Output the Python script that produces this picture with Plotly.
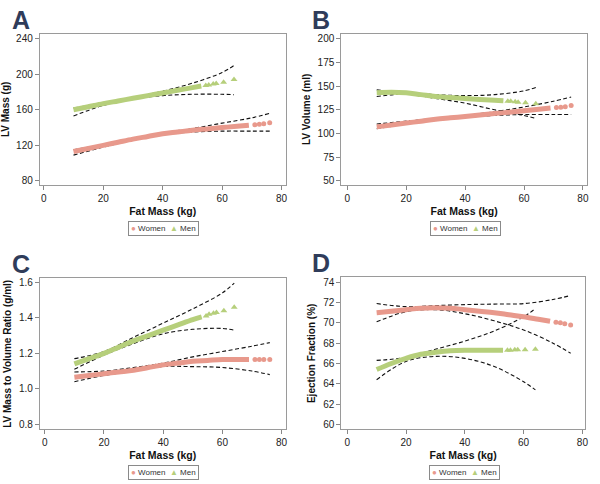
import plotly.graph_objects as go

# ---------------- data ----------------
fm_w = [10, 15, 20, 25, 30, 35, 40, 45, 50, 55, 60, 65, 69]
fm_w_tail = [71, 72.5, 74, 76]
fm_m = [10, 15, 20, 25, 30, 35, 40, 45, 50, 53]
fm_m_tail = [54.5, 55.5, 57, 58, 60.5, 64]
ci_w_fm = [10, 20, 30, 40, 50, 60, 70, 76]
ci_m_fm = [10, 20, 30, 40, 50, 60, 64]

# Panel A: LV Mass (g)
a_w = [113, 116.5, 120, 123.5, 127, 130, 133, 135, 137, 138.5, 140, 141.5, 142.7]
a_w_tail = [143.3, 143.8, 144.3, 145.5]
a_m = [160, 163.5, 167, 170, 173, 176, 179, 182, 185, 186.8]
a_m_tail = [187.5, 188, 189, 189.5, 191, 194]
a_w_up = [115, 121, 128, 134, 139, 145, 151, 156]
a_w_lo = [109, 118, 126, 132, 135, 136, 136, 136]
a_m_up = [162, 168, 174, 181, 190, 202, 210]
a_m_lo = [153, 165, 172, 176, 177.5, 177.5, 177]

# Panel B: LV Volume (ml)
b_w = [107, 109, 111, 113, 115, 116.5, 118, 119.5, 121, 122.5, 124, 125.5, 126.8]
b_w_tail = [127.3, 127.8, 128.3, 129.5]
b_m = [143, 143.5, 143, 141, 139, 138, 137, 136, 135, 134.5]
b_m_tail = [134, 134, 133.5, 133, 132.5, 131.5]
b_w_up = [110, 113, 116, 119, 123, 128, 134, 138.5]
b_w_lo = [105, 110, 114, 117, 119, 120, 120, 120]
b_m_up = [146, 143.5, 141, 140, 141, 145, 148.5]
b_m_lo = [139, 141.5, 137, 132, 125, 119, 116]

# Panel C: LV Mass to Volume Ratio (g/ml)
c_w = [1.065, 1.075, 1.085, 1.095, 1.105, 1.12, 1.135, 1.145, 1.155, 1.16, 1.165, 1.165, 1.165]
c_w_tail = [1.165, 1.165, 1.165, 1.165]
c_m = [1.14, 1.17, 1.20, 1.235, 1.27, 1.30, 1.33, 1.36, 1.39, 1.405]
c_m_tail = [1.41, 1.42, 1.425, 1.43, 1.44, 1.46]
c_w_up = [1.095, 1.10, 1.12, 1.145, 1.18, 1.21, 1.24, 1.26]
c_w_lo = [1.04, 1.075, 1.10, 1.125, 1.125, 1.12, 1.10, 1.08]
c_m_up = [1.17, 1.21, 1.29, 1.37, 1.45, 1.54, 1.595]
c_m_lo = [1.11, 1.19, 1.255, 1.31, 1.335, 1.34, 1.33]

# Panel D: Ejection Fraction (%)
d_w = [71.0, 71.15, 71.3, 71.45, 71.5, 71.45, 71.3, 71.15, 71.0, 70.8, 70.6, 70.35, 70.15]
d_w_tail = [70.05, 70.0, 69.9, 69.8]
d_m = [65.4, 66.0, 66.5, 66.9, 67.1, 67.25, 67.3, 67.3, 67.3, 67.3]
d_m_tail = [67.3, 67.3, 67.35, 67.35, 67.35, 67.4]
d_w_up = [71.9, 71.6, 71.7, 71.8, 71.85, 71.9, 72.3, 72.7]
d_w_lo = [70.1, 71.1, 71.3, 70.9, 70.2, 69.3, 68.0, 67.0]
d_m_up = [66.3, 66.6, 67.4, 68.2, 69.2, 70.6, 71.4]
d_m_lo = [64.4, 66.2, 66.7, 66.5, 65.7, 64.2, 63.4]

x_ticks = [0, 20, 40, 60, 80]
panel_letters = ["A", "B", "C", "D"]
y_titles = ["LV Mass (g)", "LV Volume (ml)", "LV Mass to Volume Ratio (g/ml)", "Ejection Fraction (%)"]
y_ticks = [[80, 120, 160, 200, 240],
           [50, 75, 100, 125, 150, 175, 200],
           [0.8, 1.0, 1.2, 1.4, 1.6],
           [60, 62, 64, 66, 68, 70, 72, 74]]
legend_labels = ["Women", "Men"]

# ---------------- styling ----------------
W_COL = "#e8998c"
M_COL = "#b6cf7b"
FONT = "Liberation Sans, Arial, sans-serif"

panels = [
    dict(w=a_w, wt=a_w_tail, m=a_m, mt=a_m_tail, wu=a_w_up, wl=a_w_lo, mu=a_m_up, ml=a_m_lo),
    dict(w=b_w, wt=b_w_tail, m=b_m, mt=b_m_tail, wu=b_w_up, wl=b_w_lo, mu=b_m_up, ml=b_m_lo),
    dict(w=c_w, wt=c_w_tail, m=c_m, mt=c_m_tail, wu=c_w_up, wl=c_w_lo, mu=c_m_up, ml=c_m_lo),
    dict(w=d_w, wt=d_w_tail, m=d_m, mt=d_m_tail, wu=d_w_up, wl=d_w_lo, mu=d_m_up, ml=d_m_lo),
]

H, Wd = 484.0, 600.0
# pixel boxes (left, right, top, bottom)
boxes = [(40, 287, 32, 184), (343, 590, 32, 184), (40, 287, 278, 430), (343, 588, 277, 430)]
x_ranges = [[-1.34, 81.34], [-2.03, 81.4], [-1.68, 81.34], [-2.03, 80.9]]
y_ranges = [[75.5, 245.6], [45.8, 205.2], [0.772, 1.6224], [59.51, 74.49]]

fig = go.Figure()
dash = "4px,2.5px"

for i, p in enumerate(panels):
    xa = "x" if i == 0 else f"x{i+1}"
    ya = "y" if i == 0 else f"y{i+1}"
    common = dict(xaxis=xa, yaxis=ya, showlegend=False, hoverinfo="skip")
    # confidence bands
    for xs, ys in [(ci_w_fm, p["wu"]), (ci_w_fm, p["wl"]), (ci_m_fm, p["mu"]), (ci_m_fm, p["ml"])]:
        fig.add_trace(go.Scatter(x=xs, y=ys, mode="lines",
                                 line=dict(color="#111111", width=1.1, dash=dash, shape="spline"),
                                 **common))
    # dense fitted values (women)
    fig.add_trace(go.Scatter(x=fm_w, y=p["w"], mode="lines",
                             line=dict(color=W_COL, width=5, shape="spline"), **common))
    fig.add_trace(go.Scatter(x=fm_w_tail, y=p["wt"], mode="markers",
                             marker=dict(color=W_COL, size=5, symbol="circle"), **common))
    # dense fitted values (men)
    fig.add_trace(go.Scatter(x=fm_m, y=p["m"], mode="lines",
                             line=dict(color=M_COL, width=5, shape="spline"), **common))
    fig.add_trace(go.Scatter(x=fm_m_tail, y=p["mt"], mode="markers",
                             marker=dict(color=M_COL, size=6, symbol="triangle-up"), **common))

layout = dict(
    width=600, height=484,
    margin=dict(l=0, r=0, t=0, b=0),
    paper_bgcolor="white", plot_bgcolor="white",
    font=dict(family=FONT, color="#222222"),
    showlegend=False,
)

annotations = []
for i in range(4):
    l, r, t, b = boxes[i]
    xd = [l / Wd, r / Wd]
    yd = [1 - b / H, 1 - t / H]
    xk = "xaxis" if i == 0 else f"xaxis{i+1}"
    yk = "yaxis" if i == 0 else f"yaxis{i+1}"
    ya_anchor = "y" if i == 0 else f"y{i+1}"
    xa_anchor = "x" if i == 0 else f"x{i+1}"
    axis_style = dict(showline=True, linecolor="#9a9a9a", linewidth=1, mirror=True,
                      ticks="outside", ticklen=4, tickcolor="#888888", tickwidth=1,
                      showgrid=False, zeroline=False,
                      tickfont=dict(size=10, color="#222222", family=FONT))
    layout[xk] = dict(domain=xd, anchor=ya_anchor, range=x_ranges[i], tickvals=x_ticks,
                      title=dict(text="<b>Fat Mass (kg)</b>", font=dict(size=10.5, family=FONT, color="#111"),
                                 standoff=4),
                      **axis_style)
    layout[yk] = dict(domain=yd, anchor=xa_anchor, range=y_ranges[i], tickvals=y_ticks[i],
                      tickformat=".1f" if i == 2 else None,
                      title=dict(text=f"<b>{y_titles[i]}</b>", font=dict(size=10, family=FONT, color="#111"),
                                 standoff=5),
                      **axis_style)
    # panel letter
    annotations.append(dict(text=f"<b>{panel_letters[i]}</b>", xref="paper", yref="paper",
                            x=(10 if l < 100 else 312) / Wd, y=1 - (t - 14) / H,
                            xanchor="left", yanchor="middle", showarrow=False,
                            font=dict(size=25, color="#2f3c5a", family=FONT)))
    # legend box
    cx = (l + r) / 2 + 1
    cy = b + 43.5
    annotations.append(dict(
        text=(f'<span style="color:{W_COL}">●</span> {legend_labels[0]}  '
              f'<span style="color:{M_COL}">▲</span> {legend_labels[1]}'),
        xref="paper", yref="paper", x=cx / Wd, y=1 - cy / H,
        xanchor="center", yanchor="middle", showarrow=False,
        font=dict(size=8, color="#333333", family=FONT),
        bordercolor="#8a8a8a", borderwidth=1, borderpad=2, bgcolor="white"))

layout["annotations"] = annotations
fig.update_layout(**layout)
fig.write_html("out.html", config={"displayModeBar": False},
               post_script="document.body.style.margin='0';document.body.style.overflow='hidden';")
